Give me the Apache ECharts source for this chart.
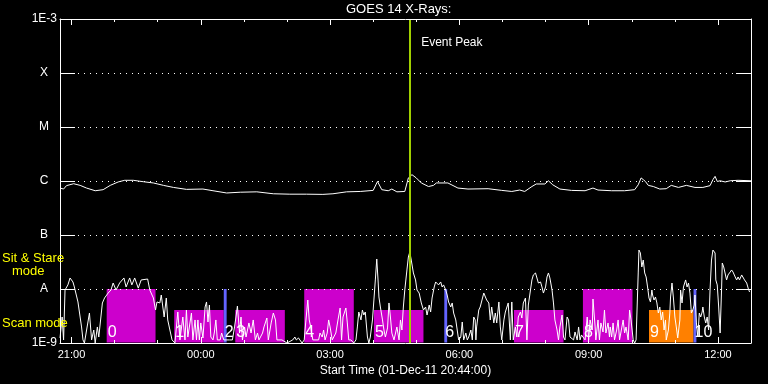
<!DOCTYPE html>
<html><head><meta charset="utf-8">
<script src="https://cdn.jsdelivr.net/npm/echarts@6/dist/echarts.min.js"></script>
<style>html,body{margin:0;padding:0;background:#000;}#c{width:768px;height:384px;}</style>
</head><body><div id="c"></div>
<script>
// ---- data (x: minutes after start time 20:44:00, y: flux W/m^2) ----
const chartTitle = 'GOES 14 X-Rays:';
const startLabel = 'Start Time (01-Dec-11 20:44:00)';
const timeMax = 962;
const hourTicks = [16,76,136,196,256,316,376,436,496,556,616,676,736,796,856,916];
const labelTicks = [16,196,376,556,736,916];
const tickLabels = ['21:00','00:00','03:00','06:00','09:00','12:00'];
const levelExp = [-9,-8,-7,-6,-5,-4,-3];
const levelLabels = ['1E-9','A','B','C','M','X','1E-3'];
const fluxMin = 1e-9, fluxMax = 1e-3;

const longTimes = [0,5,9,19,28,37,49,60,70,81,90,102,116,130,144,158,176,199,213,232,251,274,297,320,343,366,380,399,418,436,442,448,457,462,469,480,485,490,496,503,513,520,524,540,554,568,596,615,629,640,647,657,663,675,680,686,696,712,731,742,749,768,786,800,805,809,812,815,819,826,835,844,851,861,872,884,895,905,909,912,915,919,926,933,944,962];
const longFlux = [7.4e-7,7.1e-7,8.2e-7,8.9e-7,8.3e-7,7.4e-7,6.6e-7,6.9e-7,8.3e-7,9.6e-7,1.03e-6,1.03e-6,9.7e-7,9.2e-7,8.3e-7,7.6e-7,7.0e-7,7.1e-7,6.6e-7,6.0e-7,6.2e-7,6.3e-7,5.8e-7,5.7e-7,5.7e-7,5.65e-7,5.8e-7,6.3e-7,6.4e-7,6.7e-7,9.8e-7,6.9e-7,6.6e-7,7.1e-7,6.3e-7,6.4e-7,1.14e-6,1.31e-6,1.14e-6,9.2e-7,7.9e-7,8.3e-7,9.2e-7,9.2e-7,7.4e-7,7.1e-7,7.2e-7,6.7e-7,6.4e-7,6.8e-7,6.4e-7,7.9e-7,8.8e-7,8.8e-7,1.01e-6,8.5e-7,7.1e-7,6.7e-7,6.6e-7,7.4e-7,6.8e-7,6.6e-7,6.6e-7,6.9e-7,8.5e-7,1.14e-6,1.06e-6,9.8e-7,8.3e-7,7.9e-7,7.1e-7,7.2e-7,8.3e-7,7.6e-7,8.3e-7,7.6e-7,7.6e-7,8.2e-7,1.06e-6,1.22e-6,9.8e-7,1.01e-6,9.6e-7,1.01e-6,1.03e-6,1.01e-6];

const shortTimes = [0,3,5,7,11,14,18,20,25,27,30,32,34,41,44,47,49,52,54,59,62,67,71,74,78,83,89,92,97,100,104,109,113,122,125,130,133,135,139,141,145,148,150,153,156,160,164,167,171,174,176,178,183,185,188,190,192,194,196,199,202,204,206,208,210,213,215,217,219,223,225,228,236,240,243,245,247,250,252,254,257,259,263,266,269,272,275,277,282,284,288,290,294,297,300,302,309,316,324,327,329,332,337,340,342,345,347,349,352,360,362,365,367,369,372,374,376,379,384,387,390,392,394,398,400,402,405,409,412,414,416,419,421,423,425,428,430,432,435,437,439,441,443,444,446,449,451,453,456,458,460,462,465,467,469,472,474,476,478,480,483,485,487,489,492,495,497,500,503,506,509,511,514,516,518,521,523,525,527,530,532,534,537,539,541,544,546,548,551,553,555,558,560,562,565,567,569,572,574,576,578,579,580,583,585,587,590,592,594,597,599,601,604,606,608,611,613,615,618,620,622,624,627,629,631,634,636,638,641,643,645,648,650,652,655,657,659,662,664,666,669,671,673,676,678,680,682,685,687,689,692,694,696,699,701,703,706,708,710,715,717,720,722,724,726,731,734,736,738,741,742,745,746,749,751,753,756,758,760,763,765,766,768,770,772,775,777,779,782,784,786,788,791,793,795,798,800,802,805,806,808,810,812,814,816,818,820,822,824,825,827,829,831,833,835,837,839,841,843,844,847,849,850,852,854,856,858,860,863,864,866,868,871,873,875,877,879,881,883,884,886,888,890,892,894,895,897,899,901,903,905,907,909,912,913,915,917,919,921,922,924,926,928,930,933,935,937,940,942,944,946,949,951,953,956,958,960];
const shortFlux = [1.24e-9,3.03e-9,1.14e-9,9.57e-9,1.19e-8,1.6e-8,1.35e-8,1.09e-8,5.75e-9,5.51e-9,1.98e-9,1.14e-9,1.0e-9,3.59e-9,1.14e-9,1.74e-9,1.0e-9,1.98e-9,1.29e-9,5.51e-9,6.81e-9,8.42e-9,9.57e-9,1.29e-8,9.57e-9,1.29e-8,1.6e-8,1.09e-8,1.6e-8,1.19e-8,1.6e-8,1.04e-8,1.47e-8,1.53e-8,9.57e-9,6.81e-9,4.08e-9,5.75e-9,5.51e-9,7.74e-9,3.03e-9,6.81e-9,2.67e-9,1.74e-9,1.14e-9,1.0e-9,3.75e-9,1.14e-9,3.03e-9,1.14e-9,4.08e-9,1.29e-9,3.59e-9,1.14e-9,2.67e-9,1.14e-9,2.67e-9,1.14e-9,2.35e-9,1.24e-9,4.64e-9,5.75e-9,2.45e-9,5.05e-9,1.29e-9,1.14e-9,1.6e-9,2.67e-9,1.14e-9,1.14e-9,1.53e-9,1.14e-9,1.14e-9,1.14e-9,1.98e-9,3.03e-9,4.84e-9,1.53e-9,3.03e-9,1.14e-9,1.98e-9,1.29e-9,2.35e-9,1.53e-9,2.67e-9,1.14e-9,1.53e-9,1.14e-9,1.53e-9,1.98e-9,2.9e-9,1.14e-9,2.35e-9,3.59e-9,2.67e-9,1.14e-9,1.14e-9,1.0e-9,1.14e-9,1.29e-9,1.14e-9,1.24e-9,1.0e-9,1.14e-9,2.35e-9,6.25e-9,2.67e-9,1.98e-9,1.14e-9,1.14e-9,1.53e-9,1.29e-9,1.74e-9,1.14e-9,1.53e-9,2.67e-9,1.98e-9,1.14e-9,1.53e-9,2.67e-9,4.45e-9,1.14e-9,3.03e-9,4.45e-9,2.35e-9,1.14e-9,1.14e-9,1.0e-9,1.14e-9,1.98e-9,3.75e-9,2.67e-9,4.08e-9,3.3e-9,3.75e-9,1.29e-9,1.0e-9,1.29e-9,2.67e-9,6.25e-9,1.47e-8,3.59e-8,1.29e-8,7.11e-9,4.64e-9,2.67e-9,1.74e-9,1.29e-9,1.9e-9,5.51e-9,3.03e-9,1.53e-9,1.14e-9,1.14e-9,1.98e-9,1.14e-9,2.67e-9,1.74e-9,4.64e-9,9.57e-9,2.25e-8,3.91e-8,4.84e-8,3.44e-8,1.98e-8,1.47e-8,9.57e-9,8.42e-9,5.51e-9,4.08e-9,4.64e-9,3.3e-9,5.05e-9,3.75e-9,6.81e-9,1.09e-8,1.35e-8,1.29e-8,1.19e-8,1.35e-8,1.09e-8,1.19e-8,9.57e-9,7.74e-9,5.75e-9,4.64e-9,5.51e-9,3.59e-9,2.67e-9,1.74e-9,1.14e-9,1.29e-9,2.45e-9,1.14e-9,1.53e-9,1.14e-9,1.29e-9,1.74e-9,1.14e-9,3.03e-9,2.67e-9,1.14e-9,1.98e-9,4.08e-9,4.64e-9,5.05e-9,8.42e-9,8.42e-9,6.25e-9,5.51e-9,2.67e-9,4.64e-9,2.35e-9,3.59e-9,2.35e-9,5.75e-9,1.98e-9,1.14e-9,2.67e-9,3.75e-9,4.08e-9,5.51e-9,1.14e-9,5.75e-9,1.14e-9,1.98e-9,1.29e-9,3.03e-9,3.75e-9,2.9e-9,5.51e-9,6.81e-9,1.14e-9,5.05e-9,9.57e-9,1.47e-8,1.82e-8,1.98e-8,2.06e-8,1.29e-8,1.35e-8,1.09e-8,8.42e-9,1.09e-8,1.67e-8,1.98e-8,1.6e-8,9.57e-9,5.51e-9,2.67e-9,1.74e-9,1.14e-9,1.98e-9,3.3e-9,1.29e-9,1.14e-9,3.03e-9,2.67e-9,1.29e-9,1.14e-9,1.6e-9,1.14e-9,1.98e-9,1.14e-9,1.41e-9,1.14e-9,3.03e-9,1.14e-9,2.67e-9,1.74e-9,6.52e-9,1.98e-9,1.14e-9,2.67e-9,1.14e-9,2.35e-9,1.6e-9,4.08e-9,1.53e-9,2.35e-9,1.29e-9,1.98e-9,1.29e-9,2.35e-9,1.14e-9,1.74e-9,2.67e-9,1.14e-9,1.9e-9,2.67e-9,1.53e-9,1.98e-9,1.14e-9,4.08e-9,2.67e-9,1.14e-9,1.0e-9,1.14e-9,1.98e-8,5.27e-8,4.64e-8,2.56e-8,3.44e-8,1.98e-8,1.67e-8,1.09e-8,6.81e-9,5.75e-9,9.57e-9,7.74e-9,6.25e-9,7.11e-9,5.51e-9,3.59e-9,4.64e-9,2.67e-9,3.75e-9,1.74e-9,2.67e-9,1.14e-9,1.74e-9,3.59e-9,7.11e-9,1.29e-8,6.81e-9,3.03e-9,1.98e-9,1.24e-9,2.67e-9,9.57e-9,5.51e-9,1.09e-8,1.47e-8,1.09e-8,1.29e-8,8.42e-9,3.59e-9,4.08e-9,5.05e-9,7.74e-9,2.35e-9,1.29e-9,3.59e-9,3.03e-9,3.75e-9,4.64e-9,3.03e-9,2.35e-9,3.03e-9,1.74e-9,9.57e-9,3.44e-8,5.27e-8,4.64e-8,1.47e-8,1.19e-8,4.64e-9,1.53e-9,9.57e-9,3.03e-8,2.56e-8,2.78e-8,1.47e-8,1.82e-8,2.06e-8,2.25e-8,2.06e-8,1.67e-8,1.47e-8,1.67e-8,1.47e-8,1.82e-8,1.98e-8,1.47e-8,1.29e-8,1.04e-8,8.8e-9];

const boxStart = [65,159,228,244,340,437,535,632,728,820,882];
const boxEnd   = [133,228,232,313,409,506,539,701,797,882,886];
const boxTop   = [1e-8,4.1e-9,1e-8,4.1e-9,1e-8,4.1e-9,1e-8,4.1e-9,1e-8,4.1e-9,1e-8];
const boxGroup = [0,0,1,0,0,0,1,0,0,2,1];
const boxNames = ['0','1','2','3','4','5','6','7','8','9','10'];
const peakTime = 487.5;
const peakLabelFlux = 3.64e-4;
const peakLabel = 'Event Peak';
const modeLabels = ['Sit & Stare', 'mode', 'Scan mode'];

// ---- styles ----
const FONT = '"Liberation Sans", Arial, sans-serif';
const groupColors = ['#cc00cc', '#6464ff', '#ff8000'];
const WHITE = '#ffffff';

const chart = echarts.init(document.getElementById('c'), null, {renderer: 'canvas'});

function xAxisDef(pos, ticks, len, withLine, withLabel) {
  const ax = {
    type: 'value', min: 0, max: timeMax, position: pos, z: 5,
    axisLine: {show: withLine, onZero: false, lineStyle: {color: WHITE, width: 1}},
    axisTick: {show: true, inside: true, length: len, customValues: ticks, lineStyle: {color: WHITE, width: 1}},
    axisLabel: {show: false},
    splitLine: {show: false}
  };
  if (withLabel) {
    ax.axisLabel = {
      show: true, customValues: labelTicks, color: WHITE, fontSize: 11, fontFamily: FONT, margin: 6,
      formatter: v => { const i = labelTicks.indexOf(Math.round(v)); return i >= 0 ? tickLabels[i] : ''; }
    };
    ax.name = startLabel;
    ax.nameLocation = 'middle';
    ax.nameGap = 19;
    ax.nameTextStyle = {color: WHITE, fontSize: 12, fontFamily: FONT};
  }
  return ax;
}

function yLabel(v) {
  const e = Math.round(Math.log10(v));
  const i = levelExp.indexOf(e);
  if (i < 0) return '';
  const t = levelLabels[i];
  return t.length === 1 ? '{l|' + t + '}' : '{n|' + t + '}';
}

const option = {
  backgroundColor: '#000000',
  animation: false,
  title: {
    text: chartTitle, left: 346, top: 3, padding: 0,
    textStyle: {color: WHITE, fontSize: 13, fontWeight: 'normal', fontFamily: FONT}
  },
  grid: {left: 60, top: 19, width: 691, height: 324, containLabel: false},
  xAxis: [
    xAxisDef('bottom', hourTicks, 3, true, true),
    xAxisDef('bottom', labelTicks, 6, false, false),
    xAxisDef('top', hourTicks, 3, true, false),
    xAxisDef('top', labelTicks, 6, false, false)
  ],
  yAxis: [
    {
      type: 'log', logBase: 10, min: fluxMin, max: fluxMax, position: 'left', z: 5,
      axisLine: {show: true, onZero: false, lineStyle: {color: WHITE, width: 1}},
      axisTick: {show: true, inside: true, length: 15, lineStyle: {color: WHITE, width: 1}},
      minorTick: {show: false},
      axisLabel: {
        show: true, margin: 3, color: WHITE, fontSize: 12, fontFamily: FONT, formatter: yLabel,
        rich: {
          n: {color: WHITE, fontSize: 12, fontFamily: FONT, align: 'right'},
          l: {color: WHITE, fontSize: 12, fontFamily: FONT, width: 26, align: 'center'}
        }
      },
      splitLine: {show: true, lineStyle: {color: WHITE, width: 1, type: [1, 5]}}
    },
    {
      type: 'log', logBase: 10, min: fluxMin, max: fluxMax, position: 'right', z: 5,
      axisLine: {show: true, onZero: false, lineStyle: {color: WHITE, width: 1}},
      axisTick: {show: true, inside: true, length: 15, lineStyle: {color: WHITE, width: 1}},
      minorTick: {show: false},
      axisLabel: {show: false},
      splitLine: {show: false}
    }
  ],
  graphic: [
    {type: 'text', left: 2, top: 252, z: 10, style: {text: modeLabels[0], fill: '#ffff00', font: '13px ' + FONT}},
    {type: 'text', left: 12, top: 265, z: 10, style: {text: modeLabels[1], fill: '#ffff00', font: '13px ' + FONT}},
    {type: 'text', left: 2, top: 317, z: 10, style: {text: modeLabels[2], fill: '#ffff00', font: '13px ' + FONT}}
  ],
  series: [
    {
      type: 'custom', z: 1, clip: true,
      encode: {x: [0, 1], y: 2},
      data: boxStart.map((s, i) => [s, boxEnd[i], boxTop[i]]),
      renderItem: function (params, api) {
        const a = api.coord([api.value(0), api.value(2)]);
        const b = api.coord([api.value(1), fluxMin]);
        const i = params.dataIndex;
        return {
          type: 'group',
          children: [
            {type: 'rect', shape: {x: a[0], y: a[1], width: b[0] - a[0], height: b[1] - a[1] - 0.5},
             style: {fill: groupColors[boxGroup[i]]}},
            {type: 'text', x: a[0] + 1, y: b[1] - 10,
             style: {text: boxNames[i], fill: WHITE, font: '16px ' + FONT, verticalAlign: 'middle', align: 'left'}}
          ]
        };
      }
    },
    {
      type: 'line', z: 2, showSymbol: false, symbol: 'none', clip: true,
      lineStyle: {color: WHITE, width: 1},
      data: longTimes.map((t, i) => [t, longFlux[i]])
    },
    {
      type: 'line', z: 3, showSymbol: false, symbol: 'none', clip: true,
      lineStyle: {color: WHITE, width: 1},
      data: shortTimes.map((t, i) => [t, shortFlux[i]]),
      markLine: {
        silent: true, symbol: ['none', 'none'], animation: false,
        lineStyle: {color: '#a0d000', width: 2, type: 'solid'},
        label: {show: false},
        data: [{xAxis: peakTime}]
      },
      markPoint: {
        silent: true, symbol: 'circle', symbolSize: 0, animation: false,
        label: {show: true, position: 'right', distance: 11, color: WHITE, fontSize: 12, fontFamily: FONT,
                formatter: () => peakLabel},
        data: [{coord: [peakTime, peakLabelFlux]}]
      }
    }
  ]
};
chart.setOption(option);
</script>
</body></html>
